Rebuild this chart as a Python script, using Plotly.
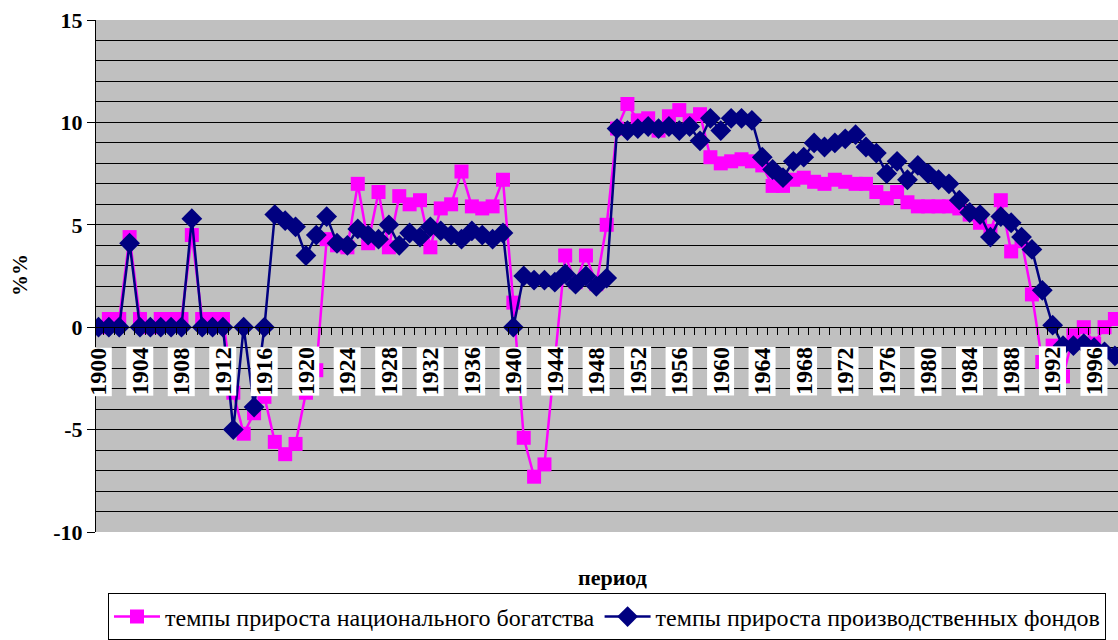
import plotly.graph_objects as go

years = list(range(1900, 1999))

wealth = [
    0.0, 0.4, 0.4, 4.4, 0.4, 0.0, 0.4, 0.4, 0.4, 4.5,      # 1900-1909
    0.4, 0.4, 0.4, -3.2, -5.2, -4.2, -3.4, -5.6, -6.2, -5.7,  # 1910-1919
    -3.2, -2.1, 4.3, 4.0, 3.9, 7.0, 4.1, 6.6, 3.9, 6.4,    # 1920-1929
    6.0, 6.2, 3.9, 5.8, 6.0, 7.6, 5.9, 5.8, 5.9, 7.2,      # 1930-1939
    1.2, -5.4, -7.3, -6.7, -1.6, 3.5, 2.2, 3.5, 2.1, 5.0,  # 1940-1949
    9.7, 10.9, 10.1, 10.2, 9.6, 10.3, 10.6, 10.1, 10.4, 8.3,  # 1950-1959
    8.0, 8.1, 8.2, 8.1, 7.9, 6.9, 6.9, 7.2, 7.3, 7.1,      # 1960-1969
    7.0, 7.2, 7.1, 7.0, 7.0, 6.6, 6.3, 6.6, 6.1, 5.9,      # 1970-1979
    5.9, 5.9, 5.9, 5.8, 5.5, 5.1, 4.7, 6.2, 3.7, 4.2,      # 1980-1989
    1.6, -1.7, -0.9, -2.4, -0.4, 0.0, -0.8, 0.0, 0.4,      # 1990-1998
]

funds = [
    0.0, 0.0, 0.0, 4.1, 0.0, 0.0, 0.0, 0.0, 0.0, 5.3,      # 1900-1909
    0.0, 0.0, 0.0, -5.0, 0.0, -3.9, 0.0, 5.5, 5.2, 4.9,    # 1910-1919
    3.5, 4.5, 5.4, 4.1, 4.0, 4.8, 4.5, 4.3, 5.0, 4.0,      # 1920-1929
    4.6, 4.4, 4.9, 4.7, 4.5, 4.3, 4.7, 4.5, 4.3, 4.6,      # 1930-1939
    0.0, 2.5, 2.3, 2.3, 2.2, 2.6, 2.1, 2.5, 2.0, 2.4,      # 1940-1949
    9.7, 9.6, 9.7, 9.8, 9.7, 9.8, 9.6, 9.8, 9.1, 10.2,     # 1950-1959
    9.6, 10.2, 10.2, 10.1, 8.3, 7.7, 7.3, 8.1, 8.3, 9.0,   # 1960-1969
    8.8, 9.0, 9.2, 9.4, 8.8, 8.5, 7.5, 8.1, 7.2, 7.9,      # 1970-1979
    7.5, 7.2, 7.0, 6.2, 5.6, 5.5, 4.4, 5.4, 5.1, 4.4,      # 1980-1989
    3.8, 1.8, 0.1, -0.9, -0.9, -0.8, -1.0, -1.2, -1.4,     # 1990-1998
]

x_tick_labels = ["1900", "1904", "1908", "1912", "1916", "1920", "1924", "1928",
                 "1932", "1936", "1940", "1944", "1948", "1952", "1956", "1960",
                 "1964", "1968", "1972", "1976", "1980", "1984", "1988", "1992", "1996"]
y_tick_values = [-10, -5, 0, 5, 10, 15]
y_tick_labels = ["-10", "-5", "0", "5", "10", "15"]

name_wealth = "темпы прироста национального богатства"
name_funds = "темпы прироста производственных фондов"
x_title = "период"
y_title = "%%"

SERIF = "Times New Roman"

fig = go.Figure()
fig.add_trace(go.Scatter(
    x=years, y=wealth, mode="lines+markers", name=name_wealth,
    line=dict(color="#FF00FF", width=2.5),
    marker=dict(symbol="square", size=14, color="#FF00FF"),
))
fig.add_trace(go.Scatter(
    x=years, y=funds, mode="lines+markers", name=name_funds,
    line=dict(color="#000080", width=2.5),
    marker=dict(symbol="diamond", size=16, color="#000080"),
))

annotations = []
for lab in x_tick_labels:
    annotations.append(dict(
        x=int(lab), y=0, xref="x", yref="y", text="<b>" + lab + "</b>", showarrow=False,
        textangle=-90, xanchor="center", yanchor="top", yshift=-19,
        bgcolor="white", borderpad=0,
        font=dict(family=SERIF, size=24, color="black"),
    ))
annotations.append(dict(
    x=0.505, y=-0.088, xref="paper", yref="paper", text="<b>" + x_title + "</b>",
    showarrow=False, xanchor="center", yanchor="middle",
    font=dict(family=SERIF, size=22, color="black"),
))
annotations.append(dict(
    x=-0.0744, y=0.502, xref="paper", yref="paper", text="<b>" + y_title + "</b>",
    showarrow=False, textangle=-90, xanchor="center", yanchor="middle",
    font=dict(family=SERIF, size=21, color="black"),
))

fig.update_layout(
    width=1118, height=640,
    margin=dict(l=96, r=0, t=20, b=108, autoexpand=False),
    paper_bgcolor="white", plot_bgcolor="#C0C0C0",
    font=dict(family=SERIF, color="black"),
    annotations=annotations,
    showlegend=True,
    legend=dict(
        orientation="h", x=0.5, xanchor="center", y=-0.12, yanchor="top",
        bgcolor="white", bordercolor="black", borderwidth=1,
        font=dict(family=SERIF, size=24, color="black"),
        itemwidth=46,
    ),
    xaxis=dict(
        range=[1899.76, 1998.3], anchor="free", position=0.4,
        showgrid=False, zeroline=False, showline=True, linecolor="black", linewidth=1,
        ticks="outside", ticklen=7, tickcolor="black", tickwidth=1,
        tickmode="linear", tick0=1899.5, dtick=1, showticklabels=False,
    ),
    yaxis=dict(
        range=[-10, 15], tickmode="array", tickvals=y_tick_values,
        ticktext=["<b>" + t + "</b>" for t in y_tick_labels],
        ticks="outside", ticklen=8, tickcolor="black", tickwidth=1,
        showline=True, linecolor="black", linewidth=1,
        showgrid=True, gridcolor="black", gridwidth=1, zeroline=False,
        minor=dict(dtick=1, tick0=0, showgrid=True, gridcolor="black", gridwidth=1, ticks=""),
        tickfont=dict(family=SERIF, size=22, color="black"),
    ),
)

fig.write_html("out.html", config={"displayModeBar": False},
               post_script="document.body.style.margin='0';")
